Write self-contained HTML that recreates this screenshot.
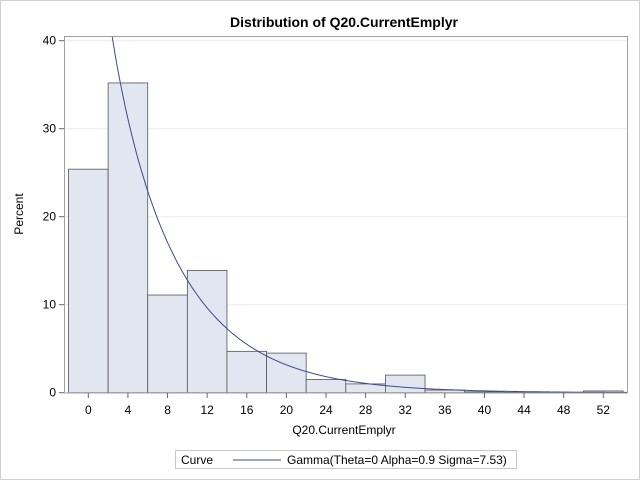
<!DOCTYPE html>
<html><head><style>
body{margin:0;background:#fff;}
svg{display:block;font-family:"Liberation Sans",Arial,sans-serif;}
</style></head><body>
<svg id="s" width="640" height="480" xmlns="http://www.w3.org/2000/svg">
<rect x="0.5" y="0.5" width="639" height="479" fill="#fff" stroke="#d0d0d0"/>
<text x="344" y="27" font-size="14" font-weight="bold" text-anchor="middle">Distribution of Q20.CurrentEmplyr</text>
<defs><clipPath id="c"><rect x="64" y="36" width="564" height="357"/></clipPath></defs>
<g id="grid"></g>
<g id="bars"></g>
<g id="curve" clip-path="url(#c)"></g>
<rect x="64.5" y="36.5" width="563" height="356.5" fill="none" stroke="#a0a0a0"/>
<g id="ax" font-size="12"></g>
<text x="344" y="434" font-size="12" text-anchor="middle">Q20.CurrentEmplyr</text>
<text x="23" y="214" font-size="12" text-anchor="middle" transform="rotate(-90 23 214)">Percent</text>
<rect x="175.5" y="450.5" width="341" height="18" fill="#fff" stroke="#c8c8c8"/>
<text x="181" y="464" font-size="12">Curve</text>
<line x1="233" y1="460" x2="240" y2="460" stroke="#fff"/>
<line x1="233" y1="460" x2="281" y2="460" stroke="#3c4a8c"/>
<text x="287" y="464" font-size="12">Gamma(Theta=0 Alpha=0.9 Sigma=7.53)</text>
</svg>
<script>
var NS="http://www.w3.org/2000/svg";
function X(v){return 88.3+9.904*v;}
function Y(p){return 392.7-8.8*p;}
function el(t,a,p){var e=document.createElementNS(NS,t);for(var k in a)e.setAttribute(k,a[k]);p.appendChild(e);return e;}
var g=document.getElementById('grid'),b=document.getElementById('bars'),ax=document.getElementById('ax'),cv=document.getElementById('curve');
[10,20,30,40].forEach(function(p){el('line',{x1:65,x2:627,y1:Y(p),y2:Y(p),stroke:'#ebebeb'},g);});
var d=[25.4,35.2,11.1,13.9,4.7,4.5,1.5,1.0,2.0,0.3,0.1,0.05,0.05,0.2];
d.forEach(function(p,i){var c=i*4;el('rect',{x:X(c-2),y:Y(p),width:X(c+2)-X(c-2),height:Y(0)-Y(p),fill:'#e1e6f0',stroke:'#555','stroke-width':0.8},b);});
[0,10,20,30,40].forEach(function(p){el('line',{x1:59,x2:64,y1:Y(p),y2:Y(p),stroke:'#666'},ax);var t=el('text',{x:56,y:Y(p)+4,'text-anchor':'end'},ax);t.textContent=p;});
for(var v=0;v<=52;v+=4){el('line',{x1:X(v),x2:X(v),y1:393,y2:398,stroke:'#666'},ax);var t=el('text',{x:X(v),y:414,'text-anchor':'middle'},ax);t.textContent=v;}
var pts=[];for(var x=0.5;x<=55;x+=0.1){var p=60.83*Math.pow(x,-0.1)*Math.exp(-x/7.53);pts.push(X(x).toFixed(1)+','+Y(p).toFixed(1));}
el('polyline',{points:pts.join(' '),fill:'none',stroke:'#3c4a8c','stroke-width':1},cv);
</script>
</body></html>
